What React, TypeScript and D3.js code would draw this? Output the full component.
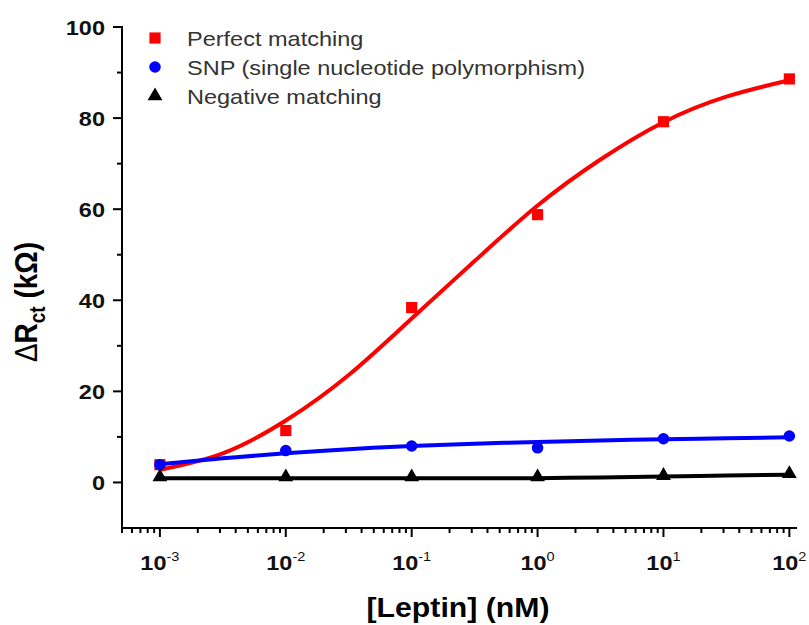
import React from "react";
import * as d3 from "d3";

// measured points
const concentrations = [0.001, 0.01, 0.1, 1, 10, 100];
const perfectValues = [3.9, 11.4, 38.4, 58.8, 79.2, 88.6];
const snpValues = [3.9, 7.0, 8.0, 7.6, 9.6, 10.2];
const negativeValues = [1.2, 1.2, 1.2, 1.2, 1.5, 1.9];

// fitted curves at half-decade steps
const fitConcentrations = [0.001, 0.00316, 0.01, 0.0316, 0.1, 0.316, 1, 3.16, 10, 31.6, 100];
const perfectFit = [2.8, 6.4, 13.6, 23.6, 36.0, 48.6, 60.8, 70.9, 79.1, 84.7, 88.3];
const snpFit = [4.0, 5.3, 6.4, 7.3, 8.0, 8.5, 8.9, 9.2, 9.5, 9.7, 9.9];
const negativeFit = [0.9, 0.9, 0.9, 0.9, 0.9, 0.9, 0.95, 1.1, 1.3, 1.5, 1.7];

const xTickExponents = [-3, -2, -1, 0, 1, 2];
const yTickLabels = [0, 20, 40, 60, 80, 100];
const yMinorTicks = [10, 30, 50, 70, 90];
const legendLabels = ["Perfect matching", "SNP (single nucleotide polymorphism)", "Negative matching"];

const FONT = "'Liberation Sans', Arial, sans-serif";
const STRETCH = "scale(1.12,1)";

export default function App() {
  const width = 809,
    height = 625;
  const margin = { top: 27, right: 12, bottom: 97, left: 122 };

  const x = d3
    .scaleLog()
    .domain([5e-4, 115])
    .range([margin.left, width - margin.right]);
  const y = d3
    .scaleLinear()
    .domain([-10, 100])
    .range([height - margin.bottom, margin.top]);

  const x0 = margin.left,
    y0 = height - margin.bottom;

  const fitLine = d3
    .line<number>()
    .x((d, i) => x(fitConcentrations[i]))
    .y((d) => y(d))
    .curve(d3.curveNatural);

  const square = d3.symbol(d3.symbolSquare, 125)()!;
  const circle = d3.symbol(d3.symbolCircle, 105)()!;
  const triangle = d3.symbol(d3.symbolTriangle, 95)()!;

  const series = [
    { fit: perfectFit, values: perfectValues, color: "#ff0000", marker: square },
    { fit: snpFit, values: snpValues, color: "#0000ff", marker: circle },
    { fit: negativeFit, values: negativeValues, color: "#000000", marker: triangle },
  ];

  const xTicks = x.ticks();
  const isMajor = (t: number) => Math.abs(Math.log10(t) - Math.round(Math.log10(t))) < 1e-6;

  return (
    <svg
      width={width}
      height={height}
      style={{ position: "absolute", left: 0, top: 0, background: "#fff" }}
      fontFamily={FONT}
    >
      {/* fits and markers */}
      {series.map((s, k) => (
        <g key={k}>
          <path d={fitLine(s.fit)!} fill="none" stroke={s.color} strokeWidth={4} />
          {s.values.map((v, i) => (
            <path
              key={i}
              d={s.marker}
              fill={s.color}
              transform={`translate(${x(concentrations[i])},${y(v)})`}
            />
          ))}
        </g>
      ))}

      {/* axes */}
      <line x1={x0} x2={width - margin.right} y1={y0} y2={y0} stroke="#000" strokeWidth={2} />
      <line x1={x0} x2={x0} y1={y0 + 1} y2={margin.top - 1} stroke="#000" strokeWidth={2} />

      {xTicks.map((t, i) => (
        <line
          key={i}
          x1={x(t)}
          x2={x(t)}
          y1={y0}
          y2={y0 + (isMajor(t) ? 9 : 5)}
          stroke="#000"
          strokeWidth={2}
        />
      ))}
      {xTickExponents.map((e) => (
        <text
          key={e}
          transform={`translate(${x(Math.pow(10, e))},570) ${STRETCH}`}
          textAnchor="middle"
          fontSize={21}
          fontWeight="bold"
          fill="#111"
        >
          10
          <tspan fontSize={13} dy={-9} fontWeight="normal">
            {e}
          </tspan>
        </text>
      ))}

      {yTickLabels.map((v) => (
        <g key={v}>
          <line x1={x0 - 9} x2={x0} y1={y(v)} y2={y(v)} stroke="#000" strokeWidth={2} />
          <text
            transform={`translate(${x0 - 17},${y(v) + 7.5}) ${STRETCH}`}
            textAnchor="end"
            fontSize={21}
            fontWeight="bold"
            fill="#111"
          >
            {v}
          </text>
        </g>
      ))}
      {yMinorTicks.map((v) => (
        <line key={v} x1={x0 - 5} x2={x0} y1={y(v)} y2={y(v)} stroke="#000" strokeWidth={2} />
      ))}

      {/* axis titles */}
      <text
        transform={`translate(458,617) ${STRETCH}`}
        textAnchor="middle"
        fontSize={27}
        fontWeight="bold"
      >
        [Leptin] (nM)
      </text>
      <text
        transform={`translate(37,302) ${STRETCH} rotate(-90)`}
        textAnchor="middle"
        fontSize={28}
        fontWeight="bold"
      >
        <tspan fontWeight="normal">Δ</tspan>R
        <tspan fontSize={19} dy={7}>
          ct
        </tspan>
        <tspan dy={-7}> (kΩ)</tspan>
      </text>

      {/* legend */}
      {legendLabels.map((label, i) => {
        const ly = 38 + i * 29;
        return (
          <g key={label}>
            <path d={series[i].marker} fill={series[i].color} transform={`translate(155,${ly})`} />
            <text
              transform={`translate(187,${ly + 7.5}) ${STRETCH}`}
              fontSize={21}
              fill="#333"
            >
              {label}
            </text>
          </g>
        );
      })}
    </svg>
  );
}
